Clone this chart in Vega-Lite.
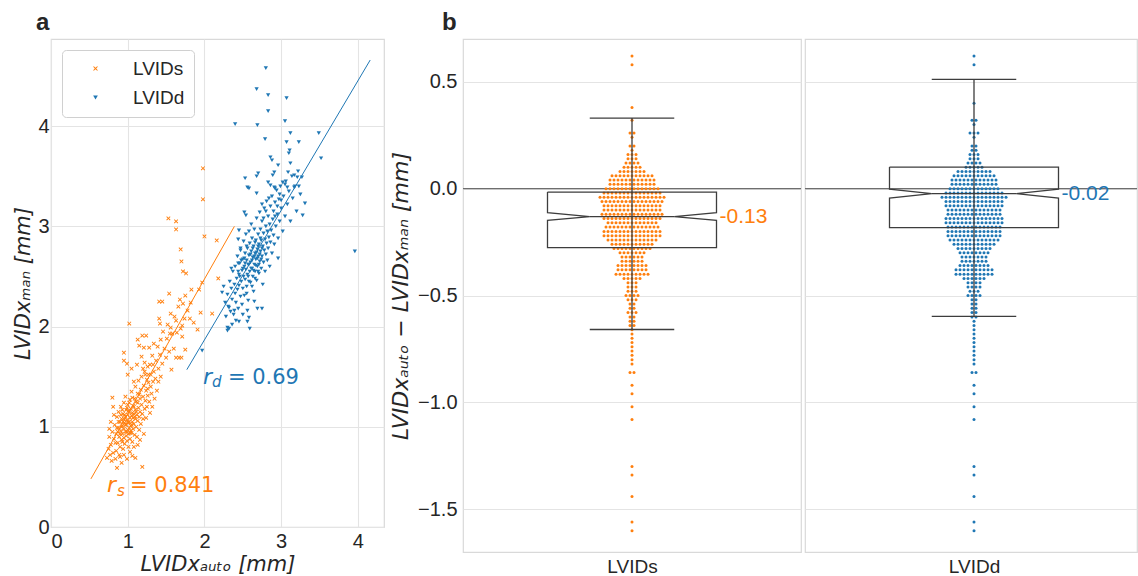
{
"$schema": "https://vega.github.io/schema/vega-lite/v6.json",
"background": "white",
"padding": {"left": 12, "top": 10, "right": 0, "bottom": 0},
"config": {
  "font": "Liberation Sans",
  "view": {"stroke": "#d9d9d9", "strokeWidth": 1.2},
  "axis": {"gridColor": "#e4e4e4", "gridWidth": 1.1, "domain": false, "ticks": false, "labelFontSize": 20, "labelFont": "Liberation Sans", "labelColor": "#262626", "titleColor": "#262626", "titleFontWeight": "normal", "titleFont": "DejaVu Sans", "titleFontStyle": "italic", "titleFontSize": 21},
  "title": {"anchor": "start", "frame": "group", "fontSize": 24, "fontWeight": "bold", "font": "Liberation Sans", "color": "#262626", "offset": 4}
},
"spacing": 79,
"bounds": "flush",
"hconcat": [
 {
  "width": 333, "height": 488,
  "title": {"text": "a", "dx": -15},
  "layer": [
   {
    "data": {"values": [
{"a":0.78,"m":0.82},{"a":0.80,"m":0.95},{"a":0.82,"m":0.88},{"a":0.83,"m":1.02},{"a":0.85,"m":0.76},{"a":0.85,"m":0.93},{"a":0.86,"m":1.10},{"a":0.87,"m":0.84},{"a":0.88,"m":0.99},{"a":0.88,"m":1.15},{"a":0.89,"m":0.72},{"a":0.89,"m":0.90},{"a":0.90,"m":1.05},{"a":0.90,"m":0.80},{"a":0.91,"m":0.96},{"a":0.91,"m":1.20},{"a":0.92,"m":0.87},{"a":0.92,"m":1.08},{"a":0.93,"m":0.93},{"a":0.93,"m":1.01},{"a":0.94,"m":0.78},{"a":0.94,"m":1.13},{"a":0.95,"m":0.98},{"a":0.95,"m":0.89},{"a":0.95,"m":1.24},{"a":0.96,"m":1.04},{"a":0.96,"m":0.83},{"a":0.97,"m":0.95},{"a":0.97,"m":1.10},{"a":0.97,"m":1.30},{"a":0.98,"m":0.91},{"a":0.98,"m":1.02},{"a":0.98,"m":1.17},{"a":0.99,"m":0.86},{"a":0.99,"m":1.07},{"a":1.00,"m":0.97},{"a":1.00,"m":1.12},{"a":1.00,"m":1.22},{"a":1.01,"m":0.93},{"a":1.01,"m":1.04},{"a":1.01,"m":0.80},{"a":1.02,"m":1.15},{"a":1.02,"m":0.99},{"a":1.03,"m":1.09},{"a":1.03,"m":1.27},{"a":1.03,"m":0.88},{"a":1.04,"m":1.01},{"a":1.04,"m":1.18},{"a":1.05,"m":0.94},{"a":1.05,"m":1.11},{"a":1.05,"m":1.35},{"a":1.06,"m":1.05},{"a":1.06,"m":0.85},{"a":1.07,"m":1.21},{"a":1.07,"m":0.98},{"a":1.08,"m":1.13},{"a":1.08,"m":1.03},{"a":1.09,"m":1.28},{"a":1.09,"m":0.92},{"a":1.10,"m":1.08},{"a":1.10,"m":1.17},{"a":1.10,"m":1.40},{"a":1.11,"m":1.00},{"a":1.11,"m":1.25},{"a":1.12,"m":1.12},{"a":1.12,"m":0.90},{"a":1.13,"m":1.33},{"a":1.13,"m":1.06},{"a":1.14,"m":1.19},{"a":1.14,"m":1.46},{"a":1.15,"m":1.10},{"a":1.15,"m":0.97},{"a":1.16,"m":1.28},{"a":1.16,"m":1.15},{"a":1.17,"m":1.37},{"a":1.17,"m":1.03},{"a":1.18,"m":1.22},{"a":1.18,"m":1.50},{"a":1.19,"m":1.13},{"a":1.20,"m":1.30},{"a":1.20,"m":1.08},{"a":1.21,"m":1.41},{"a":1.22,"m":1.18},{"a":1.22,"m":1.55},{"a":1.23,"m":1.26},{"a":1.24,"m":1.09},{"a":1.24,"m":1.36},{"a":1.25,"m":1.47},{"a":1.25,"m":1.20},{"a":1.26,"m":1.31},
{"a":0.92,"m":1.00},{"a":0.94,"m":1.05},{"a":0.96,"m":1.12},{"a":0.99,"m":0.95},{"a":1.02,"m":1.05},{"a":1.04,"m":0.96},{"a":1.06,"m":1.14},{"a":1.08,"m":1.20},{"a":0.90,"m":0.93},{"a":0.93,"m":0.85},{"a":0.97,"m":1.02},{"a":1.00,"m":1.05},{"a":1.03,"m":0.94},{"a":1.07,"m":1.09},{"a":1.11,"m":1.15},{"a":0.87,"m":0.95},{"a":0.95,"m":1.08},{"a":1.01,"m":1.16},{"a":1.05,"m":1.02},{"a":1.09,"m":1.10},{"a":0.88,"m":1.05},{"a":0.91,"m":1.12},{"a":0.99,"m":1.19},{"a":1.13,"m":1.24},{"a":1.15,"m":1.32},{"a":0.84,"m":0.84},{"a":0.86,"m":0.99},{"a":0.93,"m":1.17},{"a":1.02,"m":1.24},{"a":1.06,"m":1.29},
{"a":0.73,"m":0.69},{"a":0.75,"m":0.78},{"a":0.76,"m":0.90},{"a":0.77,"m":0.72},{"a":0.79,"m":0.66},{"a":0.81,"m":0.74},{"a":0.84,"m":0.68},{"a":0.86,"m":0.59},{"a":0.90,"m":0.70},{"a":0.92,"m":0.64},{"a":0.95,"m":0.72},{"a":0.99,"m":0.68},{"a":1.03,"m":0.75},{"a":1.06,"m":0.71},{"a":1.10,"m":0.69},{"a":1.08,"m":0.80},{"a":1.13,"m":0.82},{"a":1.16,"m":0.87},{"a":1.19,"m":0.60},{"a":1.21,"m":0.93},{"a":0.80,"m":1.29},{"a":0.81,"m":1.20},{"a":0.78,"m":1.05},{"a":0.82,"m":1.12},{"a":0.76,"m":0.98},
{"a":0.95,"m":1.74},{"a":0.95,"m":1.66},{"a":0.99,"m":1.63},{"a":1.02,"m":2.03},{"a":1.13,"m":1.87},{"a":1.19,"m":1.91},{"a":1.24,"m":1.91},{"a":1.15,"m":1.81},{"a":1.21,"m":1.79},{"a":1.28,"m":1.79},{"a":1.34,"m":1.83},{"a":1.00,"m":1.52},{"a":1.05,"m":1.58},{"a":1.08,"m":1.45},{"a":1.12,"m":1.62},{"a":1.18,"m":1.70},{"a":1.22,"m":1.64},{"a":1.27,"m":1.52},{"a":1.29,"m":1.62},{"a":1.30,"m":1.40},{"a":1.32,"m":1.71},{"a":1.34,"m":1.55},{"a":1.36,"m":1.48},{"a":1.37,"m":1.66},{"a":1.39,"m":1.80},{"a":1.40,"m":1.58},{"a":1.42,"m":1.72},{"a":1.43,"m":1.87},{"a":1.45,"m":1.63},{"a":1.46,"m":1.95},{"a":1.48,"m":1.78},{"a":1.50,"m":1.69},{"a":1.51,"m":1.88},{"a":1.52,"m":2.02},{"a":1.54,"m":1.75},{"a":1.55,"m":1.93},{"a":1.56,"m":2.13},{"a":1.57,"m":1.57},{"a":1.58,"m":1.93},{"a":1.60,"m":1.78},{"a":1.61,"m":2.10},{"a":1.63,"m":2.06},{"a":1.63,"m":1.69},{"a":1.64,"m":1.94},{"a":1.66,"m":2.20},{"a":1.67,"m":1.69},{"a":1.68,"m":2.27},{"a":1.69,"m":1.98},{"a":1.70,"m":1.69},{"a":1.71,"m":1.90},{"a":1.71,"m":2.01},{"a":1.72,"m":2.23},{"a":1.74,"m":2.08},{"a":1.75,"m":1.77},{"a":1.75,"m":2.31},{"a":1.78,"m":2.16},{"a":1.81,"m":2.08},{"a":1.82,"m":2.24},{"a":1.83,"m":2.37},{"a":1.86,"m":2.04},{"a":1.91,"m":1.97},{"a":1.93,"m":2.37},{"a":1.95,"m":2.14},{"a":1.97,"m":2.44},{"a":2.10,"m":2.13},{"a":1.41,"m":2.25},{"a":1.45,"m":2.25},{"a":1.42,"m":2.03},{"a":1.41,"m":2.08},{"a":1.54,"m":2.33},{"a":1.56,"m":1.99},
{"a":1.98,"m":3.58},{"a":1.98,"m":3.27},{"a":1.53,"m":3.08},{"a":1.63,"m":3.05},{"a":1.63,"m":2.97},{"a":2.00,"m":2.90},{"a":2.16,"m":2.86},{"a":1.69,"m":2.77},{"a":1.70,"m":2.65},{"a":1.72,"m":2.55},{"a":1.76,"m":2.53},{"a":2.18,"m":2.48},
{"a":1.26,"m":1.38},{"a":1.28,"m":1.25},{"a":1.30,"m":1.52},{"a":1.31,"m":1.33},{"a":1.33,"m":1.45},{"a":1.35,"m":1.28},{"a":1.27,"m":1.44},{"a":1.29,"m":1.14},{"a":1.23,"m":1.52},{"a":1.20,"m":1.58},{"a":1.26,"m":1.60},{"a":1.32,"m":1.20},{"a":1.38,"m":1.36},{"a":1.40,"m":1.45},{"a":1.43,"m":1.50},{"a":1.33,"m":1.62}
    ]},
    "mark": {"type": "point", "filled": true, "size": 18, "opacity": 1, "strokeWidth": 0},
    "encoding": {
     "x": {"field": "a", "type": "quantitative", "scale": {"domain": [0, 4.34], "nice": false, "zero": false}, "axis": {"title": "LVIDxₐᵤₜₒ [mm]", "values": [0, 1, 2, 3, 4], "format": "d", "labelPadding": 4, "titlePadding": 2}},
     "y": {"field": "m", "type": "quantitative", "scale": {"domain": [0, 4.87], "nice": false, "zero": false}, "axis": {"title": "LVIDxₘₐₙ [mm]", "values": [0, 1, 2, 3, 4], "format": "d", "labelPadding": 2, "titlePadding": 4}},
     "color": {"datum": "LVIDs", "scale": {"domain": ["LVIDs", "LVIDd"], "range": ["#ff7f0e", "#1f77b4"]}, "legend": {"title": null, "orient": "top-left", "offset": 11, "padding": 9, "strokeColor": "#d0d0d0", "fillColor": "#ffffff", "cornerRadius": 4, "symbolSize": 22, "labelFontSize": 19, "rowPadding": 9, "symbolOffset": 15, "labelOffset": 28, "labelFont": "Liberation Sans", "labelColor": "#262626"}},
     "shape": {"datum": "LVIDs", "scale": {"domain": ["LVIDs", "LVIDd"], "range": ["M-1,-0.7L-0.7,-1L0,-0.3L0.7,-1L1,-0.7L0.3,0L1,0.7L0.7,1L0,0.3L-0.7,1L-1,0.7L-0.3,0Z", "triangle-down"]}, "legend": {"title": null, "orient": "top-left", "offset": 11, "padding": 9, "strokeColor": "#d0d0d0", "fillColor": "#ffffff", "cornerRadius": 4, "symbolSize": 22, "labelFontSize": 19, "rowPadding": 9, "symbolOffset": 15, "labelOffset": 28, "labelFont": "Liberation Sans", "labelColor": "#262626"}}
    }
   },
   {
    "data": {"values": [
{"a":2.28,"m":2.10},{"a":2.30,"m":2.32},{"a":2.31,"m":2.20},{"a":2.33,"m":2.45},{"a":2.34,"m":2.15},{"a":2.35,"m":2.38},{"a":2.36,"m":2.27},{"a":2.37,"m":2.55},{"a":2.38,"m":2.12},{"a":2.39,"m":2.42},{"a":2.40,"m":2.33},{"a":2.40,"m":2.60},{"a":2.41,"m":2.24},{"a":2.42,"m":2.48},{"a":2.43,"m":2.37},{"a":2.43,"m":2.70},{"a":2.44,"m":2.18},{"a":2.45,"m":2.52},{"a":2.45,"m":2.41},{"a":2.46,"m":2.63},{"a":2.47,"m":2.30},{"a":2.47,"m":2.78},{"a":2.48,"m":2.45},{"a":2.49,"m":2.56},{"a":2.49,"m":2.22},{"a":2.50,"m":2.67},{"a":2.50,"m":2.38},{"a":2.51,"m":2.50},{"a":2.51,"m":2.85},{"a":2.52,"m":2.60},{"a":2.52,"m":2.31},{"a":2.53,"m":2.73},{"a":2.53,"m":2.47},{"a":2.54,"m":2.57},{"a":2.54,"m":2.92},{"a":2.55,"m":2.40},{"a":2.55,"m":2.66},{"a":2.56,"m":2.78},{"a":2.56,"m":2.52},{"a":2.57,"m":2.62},{"a":2.57,"m":2.26},{"a":2.58,"m":2.71},{"a":2.58,"m":2.95},{"a":2.59,"m":2.55},{"a":2.59,"m":2.83},{"a":2.60,"m":2.64},{"a":2.60,"m":2.44},{"a":2.61,"m":2.75},{"a":2.61,"m":3.02},{"a":2.62,"m":2.58},{"a":2.62,"m":2.88},{"a":2.63,"m":2.69},{"a":2.63,"m":2.50},{"a":2.64,"m":2.80},{"a":2.64,"m":2.35},{"a":2.65,"m":2.62},{"a":2.65,"m":2.97},{"a":2.66,"m":2.73},{"a":2.66,"m":2.55},{"a":2.67,"m":2.86},{"a":2.67,"m":2.67},{"a":2.68,"m":3.08},{"a":2.68,"m":2.46},{"a":2.69,"m":2.77},{"a":2.69,"m":2.60},{"a":2.70,"m":2.92},{"a":2.70,"m":2.70},{"a":2.71,"m":2.53},{"a":2.71,"m":2.82},{"a":2.72,"m":3.14},{"a":2.72,"m":2.65},{"a":2.73,"m":2.75},{"a":2.73,"m":2.97},{"a":2.74,"m":2.58},{"a":2.74,"m":2.86},{"a":2.75,"m":2.70},{"a":2.75,"m":3.05},{"a":2.76,"m":2.80},{"a":2.76,"m":2.42},{"a":2.77,"m":2.93},{"a":2.77,"m":2.64},{"a":2.78,"m":3.18},{"a":2.78,"m":2.76},{"a":2.79,"m":2.87},{"a":2.79,"m":2.55},{"a":2.80,"m":3.00},{"a":2.80,"m":2.72},{"a":2.81,"m":2.83},{"a":2.81,"m":3.25},{"a":2.82,"m":2.66},{"a":2.82,"m":2.95},{"a":2.83,"m":3.10},{"a":2.83,"m":2.78},{"a":2.84,"m":2.89},{"a":2.85,"m":3.02},{"a":2.85,"m":2.60},{"a":2.86,"m":3.20},{"a":2.86,"m":2.84},{"a":2.87,"m":2.96},{"a":2.88,"m":3.30},{"a":2.88,"m":2.73},{"a":2.89,"m":3.07},{"a":2.90,"m":2.91},{"a":2.90,"m":3.15},{"a":2.91,"m":2.82},{"a":2.92,"m":3.24},{"a":2.93,"m":3.00},{"a":2.94,"m":3.36},{"a":2.95,"m":3.12},{"a":2.96,"m":2.88},{"a":2.97,"m":3.27},{"a":2.98,"m":3.05},{"a":2.99,"m":3.40},{"a":3.00,"m":3.18},{"a":3.02,"m":2.95},{"a":3.03,"m":3.30},{"a":3.05,"m":3.10},{"a":3.06,"m":3.45},{"a":3.08,"m":3.22},{"a":3.10,"m":3.35},{"a":3.12,"m":3.05},{"a":3.14,"m":3.50},{"a":3.15,"m":3.28},{"a":3.18,"m":3.40},{"a":3.20,"m":3.15},{"a":3.22,"m":3.55},{"a":3.25,"m":3.32},
{"a":2.52,"m":2.68},{"a":2.55,"m":2.80},{"a":2.57,"m":2.50},{"a":2.58,"m":2.62},{"a":2.60,"m":2.72},{"a":2.61,"m":2.58},{"a":2.62,"m":2.66},{"a":2.63,"m":2.78},{"a":2.64,"m":2.56},{"a":2.65,"m":2.70},{"a":2.66,"m":2.84},{"a":2.67,"m":2.61},{"a":2.68,"m":2.74},{"a":2.69,"m":2.68},{"a":2.70,"m":2.80},{"a":2.71,"m":2.62},{"a":2.72,"m":2.72},{"a":2.73,"m":2.88},{"a":2.74,"m":2.67},{"a":2.75,"m":2.78},{"a":2.58,"m":2.45},{"a":2.62,"m":2.40},{"a":2.66,"m":2.48},{"a":2.70,"m":2.55},{"a":2.55,"m":2.33},{"a":2.48,"m":2.66},{"a":2.46,"m":2.50},{"a":2.50,"m":2.58},{"a":2.53,"m":2.63},{"a":2.44,"m":2.55},
{"a":2.23,"m":2.34},{"a":2.30,"m":1.99},{"a":2.30,"m":1.96},{"a":2.32,"m":1.98},{"a":2.59,"m":1.98},{"a":2.69,"m":2.18},{"a":2.75,"m":2.18},{"a":2.56,"m":2.16},{"a":2.58,"m":2.09},{"a":2.41,"m":2.06},{"a":2.39,"m":2.16},{"a":2.32,"m":2.19},{"a":1.97,"m":1.76},{"a":2.56,"m":2.05},{"a":2.45,"m":2.05},{"a":2.36,"m":2.02},{"a":2.50,"m":2.12},{"a":2.65,"m":2.25},{"a":2.27,"m":2.24},{"a":2.25,"m":2.40},{"a":2.35,"m":2.58},
{"a":2.80,"m":4.58},{"a":2.68,"m":4.37},{"a":2.83,"m":4.31},{"a":3.07,"m":4.28},{"a":2.83,"m":4.15},{"a":3.05,"m":4.05},{"a":2.40,"m":4.02},{"a":2.69,"m":4.01},{"a":3.12,"m":3.93},{"a":3.49,"m":3.93},{"a":2.79,"m":3.87},{"a":3.07,"m":3.84},{"a":3.23,"m":3.84},{"a":3.11,"m":3.76},{"a":3.10,"m":3.73},{"a":3.52,"m":3.68},{"a":2.86,"m":3.69},{"a":2.88,"m":3.66},{"a":3.12,"m":3.63},{"a":2.96,"m":3.61},{"a":2.91,"m":3.54},{"a":2.89,"m":3.51},{"a":2.70,"m":3.53},{"a":2.68,"m":3.50},{"a":3.09,"m":3.54},{"a":3.17,"m":3.51},{"a":3.21,"m":3.49},{"a":3.27,"m":3.49},{"a":2.53,"m":3.48},{"a":2.56,"m":3.39},{"a":2.58,"m":3.38},{"a":2.83,"m":3.44},{"a":2.86,"m":3.41},{"a":2.91,"m":3.39},{"a":2.92,"m":3.38},{"a":3.02,"m":3.44},{"a":3.05,"m":3.42},{"a":3.08,"m":3.39},{"a":3.17,"m":3.39},{"a":3.23,"m":3.40},{"a":2.68,"m":3.33},{"a":3.31,"m":3.23},{"a":3.28,"m":3.11},{"a":2.52,"m":3.14},{"a":2.54,"m":3.11},{"a":2.96,"m":2.68},{"a":3.96,"m":2.75},{"a":2.45,"m":2.96},{"a":2.44,"m":2.87},{"a":2.47,"m":2.76},{"a":2.44,"m":2.63},
{"a":2.75,"m":3.22},{"a":2.80,"m":3.15},{"a":2.84,"m":3.28},{"a":2.95,"m":3.20},{"a":2.98,"m":3.32},{"a":3.00,"m":3.26},{"a":2.92,"m":3.10},{"a":2.77,"m":3.08}
    ]},
    "mark": {"type": "point", "filled": true, "size": 18, "opacity": 1, "strokeWidth": 0},
    "encoding": {
     "x": {"field": "a", "type": "quantitative"},
     "y": {"field": "m", "type": "quantitative"},
     "color": {"datum": "LVIDd"},
     "shape": {"datum": "LVIDd"}
    }
   },
   {
    "data": {"values": [{"a": 0.52, "m": 0.48}, {"a": 2.39, "m": 3.0}]},
    "mark": {"type": "line", "color": "#ff7f0e", "strokeWidth": 1},
    "encoding": {"x": {"field": "a", "type": "quantitative"}, "y": {"field": "m", "type": "quantitative"}}
   },
   {
    "data": {"values": [{"a": 1.77, "m": 1.57}, {"a": 4.16, "m": 4.66}]},
    "mark": {"type": "line", "color": "#1f77b4", "strokeWidth": 1},
    "encoding": {"x": {"field": "a", "type": "quantitative"}, "y": {"field": "m", "type": "quantitative"}}
   },
   {
    "data": {"values": [{"a": 0.73, "m": 0.35}]},
    "layer": [
     {"mark": {"type": "text", "text": "r", "font": "DejaVu Sans", "fontStyle": "italic", "fontSize": 22, "align": "left", "baseline": "alphabetic", "color": "#ff7f0e"}, "encoding": {"x": {"field": "a", "type": "quantitative"}, "y": {"field": "m", "type": "quantitative"}}},
     {"mark": {"type": "text", "text": "s", "font": "DejaVu Sans", "fontStyle": "italic", "fontSize": 15, "align": "left", "baseline": "alphabetic", "dx": 10, "dy": 4, "color": "#ff7f0e"}, "encoding": {"x": {"field": "a", "type": "quantitative"}, "y": {"field": "m", "type": "quantitative"}}},
     {"mark": {"type": "text", "text": "= 0.841", "font": "DejaVu Sans", "fontSize": 21, "align": "left", "baseline": "alphabetic", "dx": 23, "color": "#ff7f0e"}, "encoding": {"x": {"field": "a", "type": "quantitative"}, "y": {"field": "m", "type": "quantitative"}}}
    ]
   },
   {
    "data": {"values": [{"a": 1.98, "m": 1.43}]},
    "layer": [
     {"mark": {"type": "text", "text": "r", "font": "DejaVu Sans", "fontStyle": "italic", "fontSize": 22, "align": "left", "baseline": "alphabetic", "color": "#1f77b4"}, "encoding": {"x": {"field": "a", "type": "quantitative"}, "y": {"field": "m", "type": "quantitative"}}},
     {"mark": {"type": "text", "text": "d", "font": "DejaVu Sans", "fontStyle": "italic", "fontSize": 15, "align": "left", "baseline": "alphabetic", "dx": 9, "dy": 3, "color": "#1f77b4"}, "encoding": {"x": {"field": "a", "type": "quantitative"}, "y": {"field": "m", "type": "quantitative"}}},
     {"mark": {"type": "text", "text": "= 0.69", "font": "DejaVu Sans", "fontSize": 21, "align": "left", "baseline": "alphabetic", "dx": 25, "color": "#1f77b4"}, "encoding": {"x": {"field": "a", "type": "quantitative"}, "y": {"field": "m", "type": "quantitative"}}}
    ]
   }
  ]
 },
 {
  "spacing": 4,
  "bounds": "flush",
  "hconcat": [
   {
    "width": 338, "height": 513,
    "title": {"text": "b", "dx": -21},
    "resolve": {"scale": {"x": "independent"}, "axis": {"x": "independent"}},
    "layer": [
     {
      "data": {"values": [{"v": 0}]},
      "mark": {"type": "rule", "color": "#6e6e6e", "strokeWidth": 1.2},
      "encoding": {"y": {"field": "v", "type": "quantitative", "scale": {"domain": [-1.7, 0.7], "nice": false, "zero": false}, "axis": {"values": [-1.5, -1, -0.5, 0, 0.5], "format": ".1f", "title": "LVIDxₐᵤₜₒ − LVIDxₘₐₙ [mm]", "titleFontSize": 22, "labelPadding": 6, "titlePadding": 5}}}
     },
     {
      "data": {"values": [0.624,0.582,0.397,0.331,0.264,0.271,0.252,0.205,0.213,0.188,0.163,0.171,0.177,0.143,0.152,0.158,0.122,0.128,0.135,0.139,0.101,0.107,0.112,0.116,0.119,0.081,0.084,0.088,0.091,0.093,0.096,0.098,0.061,0.063,0.065,0.066,0.068,0.071,0.073,0.074,0.076,0.077,0.079,0.041,0.042,0.045,0.047,0.049,0.051,0.053,0.055,0.056,0.058,0.059,0.044,0.021,0.023,0.025,0.026,0.028,0.031,0.033,0.034,0.036,0.037,0.039,0.029,0.001,0.002,0.004,0.005,0.007,0.008,0.011,0.012,0.013,0.015,0.016,0.018,0.019,0.009,-0.019,-0.018,-0.017,-0.015,-0.014,-0.012,-0.011,-0.009,-0.008,-0.007,-0.005,-0.004,-0.003,-0.002,-0.013,-0.039,-0.038,-0.036,-0.035,-0.034,-0.033,-0.031,-0.03,-0.029,-0.028,-0.027,-0.025,-0.024,-0.023,-0.022,-0.021,-0.032,-0.059,-0.058,-0.056,-0.055,-0.054,-0.052,-0.051,-0.049,-0.048,-0.047,-0.045,-0.044,-0.043,-0.042,-0.041,-0.053,-0.079,-0.077,-0.076,-0.074,-0.073,-0.072,-0.071,-0.069,-0.068,-0.066,-0.065,-0.064,-0.063,-0.062,-0.061,-0.099,-0.098,-0.096,-0.095,-0.093,-0.092,-0.091,-0.089,-0.088,-0.086,-0.085,-0.084,-0.083,-0.082,-0.081,-0.119,-0.118,-0.117,-0.115,-0.114,-0.113,-0.112,-0.111,-0.109,-0.108,-0.106,-0.105,-0.104,-0.103,-0.102,-0.101,-0.139,-0.138,-0.137,-0.136,-0.134,-0.133,-0.132,-0.131,-0.129,-0.128,-0.127,-0.125,-0.124,-0.122,-0.121,-0.159,-0.157,-0.156,-0.154,-0.153,-0.151,-0.149,-0.148,-0.146,-0.145,-0.143,-0.142,-0.141,-0.179,-0.178,-0.176,-0.175,-0.173,-0.172,-0.171,-0.169,-0.167,-0.166,-0.165,-0.163,-0.162,-0.161,-0.199,-0.197,-0.196,-0.195,-0.194,-0.192,-0.191,-0.189,-0.188,-0.187,-0.185,-0.184,-0.183,-0.182,-0.181,-0.219,-0.218,-0.216,-0.215,-0.214,-0.212,-0.211,-0.209,-0.208,-0.206,-0.205,-0.204,-0.203,-0.202,-0.201,-0.239,-0.237,-0.236,-0.234,-0.233,-0.231,-0.229,-0.228,-0.226,-0.225,-0.223,-0.222,-0.221,-0.259,-0.257,-0.255,-0.254,-0.252,-0.249,-0.247,-0.245,-0.244,-0.242,-0.241,-0.279,-0.277,-0.275,-0.273,-0.271,-0.268,-0.266,-0.264,-0.263,-0.261,-0.298,-0.295,-0.292,-0.289,-0.286,-0.284,-0.282,-0.318,-0.315,-0.311,-0.307,-0.304,-0.302,-0.338,-0.335,-0.331,-0.327,-0.324,-0.321,-0.359,-0.356,-0.354,-0.351,-0.348,-0.345,-0.343,-0.341,-0.379,-0.376,-0.373,-0.371,-0.368,-0.365,-0.363,-0.361,-0.399,-0.397,-0.394,-0.392,-0.389,-0.387,-0.385,-0.383,-0.381,-0.418,-0.414,-0.409,-0.405,-0.402,-0.436,-0.428,-0.423,-0.457,-0.449,-0.443,-0.477,-0.469,-0.463,-0.498,-0.492,-0.487,-0.483,-0.517,-0.509,-0.503,-0.533,-0.526,-0.554,-0.546,-0.578,-0.572,-0.565,-0.594,-0.586,-0.613,-0.604,-0.637,-0.626,-0.655,-0.678,-0.698,-0.718,-0.731,-0.745,-0.761,-0.784,-0.808,-0.853,-0.857,-0.904,-0.947,-1.008,-1.079,-1.288,-1.337,-1.424,-1.551,-1.598]},
      "transform": [
       {"bin": {"step": 0.02}, "field": "data", "as": "v"},
       {"window": [{"op": "count", "as": "c"}], "frame": [0, 0]}
      ],
      "mark": {"type": "circle", "size": 9, "color": "#ff7f0e", "opacity": 1},
      "encoding": {
       "x": {"field": "c", "type": "quantitative", "stack": "center", "scale": {"domain": [-33.25, 51.25], "nice": false, "zero": false}, "axis": null},
       "y": {"field": "v", "type": "quantitative", "scale": {"domain": [-1.7, 0.7], "nice": false, "zero": false}}
      }
     },
     {
      "data": {"values": [{"w":-0.5,"v":-0.016,"o":0},{"w":0.5,"v":-0.016,"o":1},{"w":0.5,"v":-0.112,"o":2},{"w":0.25,"v":-0.131,"o":3},{"w":0.5,"v":-0.148,"o":4},{"w":0.5,"v":-0.276,"o":5},{"w":-0.5,"v":-0.276,"o":6},{"w":-0.5,"v":-0.148,"o":7},{"w":-0.25,"v":-0.131,"o":8},{"w":-0.5,"v":-0.112,"o":9},{"w":-0.5,"v":-0.016,"o":10}]},
      "mark": {"type": "line", "color": "#3d3d3d", "strokeWidth": 1.3},
      "encoding": {
       "x": {"field": "w", "type": "quantitative", "scale": {"domain": [-1, 1], "nice": false, "zero": false}, "axis": {"title": "LVIDs", "labels": false, "grid": false, "titleFont": "Liberation Sans", "titleFontStyle": "normal", "titleFontSize": 19, "titlePadding": 5}},
       "y": {"field": "v", "type": "quantitative"},
       "order": {"field": "o", "type": "quantitative"}
      }
     },
     {
      "data": {"values": [{"w":-0.25,"w2":0.25,"v":0.33,"v2":0.33},{"w":-0.25,"w2":0.25,"v":-0.659,"v2":-0.659},{"w":-0.25,"w2":0.25,"v":-0.131,"v2":-0.131},{"w":0,"w2":0,"v":-0.659,"v2":0.33}]},
      "mark": {"type": "rule", "color": "#3d3d3d", "strokeWidth": 1.3},
      "encoding": {
       "x": {"field": "w", "type": "quantitative", "scale": {"domain": [-1, 1], "nice": false, "zero": false}, "axis": null},
       "x2": {"field": "w2"},
       "y": {"field": "v", "type": "quantitative"},
       "y2": {"field": "v2"}
      }
     },
     {
      "data": {"values": [{"w": 0.5, "v": -0.131, "t": "-0.13"}]},
      "mark": {"type": "text", "align": "left", "baseline": "middle", "dx": 3, "fontSize": 21, "font": "Liberation Sans", "color": "#ff7f0e"},
      "encoding": {
       "x": {"field": "w", "type": "quantitative", "scale": {"domain": [-1, 1], "nice": false, "zero": false}, "axis": null},
       "y": {"field": "v", "type": "quantitative"},
       "text": {"field": "t"}
      }
     }
    ]
   },
   {
    "width": 332, "height": 513,
    "resolve": {"scale": {"x": "independent"}, "axis": {"x": "independent"}},
    "layer": [
     {
      "data": {"values": [{"v": 0}]},
      "mark": {"type": "rule", "color": "#6e6e6e", "strokeWidth": 1.2},
      "encoding": {"y": {"field": "v", "type": "quantitative", "scale": {"domain": [-1.7, 0.7], "nice": false, "zero": false}, "axis": {"values": [-1.5, -1, -0.5, 0, 0.5], "labels": false, "title": null}}}
     },
     {
      "data": {"values": [0.624,0.582,0.401,0.331,0.334,0.306,0.266,0.270,0.274,0.244,0.204,0.213,0.186,0.193,0.164,0.171,0.176,0.142,0.151,0.157,0.123,0.127,0.134,0.138,0.102,0.106,0.111,0.115,0.118,0.081,0.083,0.085,0.087,0.089,0.091,0.093,0.095,0.098,0.061,0.062,0.064,0.066,0.068,0.069,0.071,0.073,0.075,0.077,0.079,0.041,0.043,0.044,0.046,0.048,0.049,0.051,0.053,0.054,0.056,0.057,0.059,0.021,0.022,0.024,0.026,0.027,0.029,0.031,0.033,0.034,0.036,0.037,0.039,0.001,0.003,0.004,0.006,0.007,0.009,0.011,0.012,0.013,0.015,0.016,0.017,0.019,-0.019,-0.018,-0.016,-0.015,-0.014,-0.013,-0.012,-0.011,-0.009,-0.008,-0.006,-0.005,-0.004,-0.003,-0.001,-0.039,-0.038,-0.037,-0.036,-0.035,-0.034,-0.033,-0.032,-0.031,-0.029,-0.028,-0.027,-0.026,-0.025,-0.024,-0.023,-0.022,-0.059,-0.058,-0.057,-0.055,-0.054,-0.053,-0.051,-0.049,-0.048,-0.047,-0.046,-0.045,-0.043,-0.042,-0.041,-0.079,-0.078,-0.076,-0.075,-0.074,-0.073,-0.071,-0.069,-0.068,-0.067,-0.066,-0.064,-0.063,-0.062,-0.061,-0.099,-0.097,-0.096,-0.094,-0.093,-0.092,-0.091,-0.089,-0.088,-0.086,-0.085,-0.084,-0.083,-0.081,-0.119,-0.117,-0.116,-0.115,-0.113,-0.112,-0.111,-0.109,-0.107,-0.106,-0.105,-0.104,-0.103,-0.101,-0.139,-0.138,-0.136,-0.135,-0.134,-0.133,-0.132,-0.131,-0.129,-0.128,-0.126,-0.125,-0.124,-0.123,-0.121,-0.159,-0.158,-0.157,-0.155,-0.154,-0.153,-0.152,-0.151,-0.149,-0.148,-0.146,-0.145,-0.144,-0.143,-0.141,-0.179,-0.177,-0.176,-0.175,-0.174,-0.172,-0.171,-0.169,-0.168,-0.167,-0.165,-0.164,-0.163,-0.161,-0.199,-0.198,-0.196,-0.195,-0.193,-0.192,-0.191,-0.189,-0.188,-0.186,-0.185,-0.184,-0.183,-0.181,-0.219,-0.217,-0.216,-0.215,-0.213,-0.212,-0.211,-0.209,-0.208,-0.206,-0.205,-0.204,-0.203,-0.201,-0.239,-0.238,-0.236,-0.235,-0.233,-0.232,-0.231,-0.229,-0.227,-0.226,-0.224,-0.223,-0.221,-0.259,-0.257,-0.256,-0.254,-0.252,-0.251,-0.249,-0.247,-0.245,-0.243,-0.241,-0.279,-0.277,-0.275,-0.272,-0.269,-0.267,-0.265,-0.263,-0.261,-0.298,-0.296,-0.293,-0.291,-0.288,-0.286,-0.284,-0.282,-0.318,-0.316,-0.313,-0.309,-0.306,-0.304,-0.302,-0.339,-0.336,-0.333,-0.329,-0.326,-0.324,-0.322,-0.358,-0.356,-0.353,-0.351,-0.348,-0.346,-0.343,-0.341,-0.379,-0.377,-0.375,-0.373,-0.371,-0.369,-0.367,-0.365,-0.363,-0.361,-0.399,-0.397,-0.395,-0.393,-0.391,-0.389,-0.387,-0.385,-0.383,-0.381,-0.418,-0.415,-0.411,-0.408,-0.405,-0.402,-0.437,-0.432,-0.427,-0.422,-0.458,-0.452,-0.447,-0.443,-0.476,-0.471,-0.464,-0.497,-0.493,-0.488,-0.484,-0.515,-0.507,-0.536,-0.527,-0.553,-0.545,-0.574,-0.566,-0.598,-0.589,-0.605,-0.623,-0.651,-0.675,-0.687,-0.706,-0.729,-0.745,-0.761,-0.784,-0.807,-0.853,-0.857,-0.904,-0.947,-1.008,-1.079,-1.288,-1.337,-1.424,-1.551,-1.598]},
      "transform": [
       {"bin": {"step": 0.02}, "field": "data", "as": "v"},
       {"window": [{"op": "count", "as": "c"}], "frame": [0, 0]}
      ],
      "mark": {"type": "circle", "size": 9, "color": "#1f77b4", "opacity": 1},
      "encoding": {
       "x": {"field": "c", "type": "quantitative", "stack": "center", "scale": {"domain": [-33.25, 49.75], "nice": false, "zero": false}, "axis": null},
       "y": {"field": "v", "type": "quantitative", "scale": {"domain": [-1.7, 0.7], "nice": false, "zero": false}}
      }
     },
     {
      "data": {"values": [{"w":-0.5,"v":0.101,"o":0},{"w":0.5,"v":0.101,"o":1},{"w":0.5,"v":-0.002,"o":2},{"w":0.25,"v":-0.023,"o":3},{"w":0.5,"v":-0.044,"o":4},{"w":0.5,"v":-0.182,"o":5},{"w":-0.5,"v":-0.182,"o":6},{"w":-0.5,"v":-0.044,"o":7},{"w":-0.25,"v":-0.023,"o":8},{"w":-0.5,"v":-0.002,"o":9},{"w":-0.5,"v":0.101,"o":10}]},
      "mark": {"type": "line", "color": "#3d3d3d", "strokeWidth": 1.3},
      "encoding": {
       "x": {"field": "w", "type": "quantitative", "scale": {"domain": [-1, 0.9645], "nice": false, "zero": false}, "axis": {"title": "LVIDd", "labels": false, "grid": false, "titleFont": "Liberation Sans", "titleFontStyle": "normal", "titleFontSize": 19, "titlePadding": 5, "titleX": 169}},
       "y": {"field": "v", "type": "quantitative"},
       "order": {"field": "o", "type": "quantitative"}
      }
     },
     {
      "data": {"values": [{"w":-0.25,"w2":0.25,"v":0.511,"v2":0.511},{"w":-0.25,"w2":0.25,"v":-0.598,"v2":-0.598},{"w":-0.25,"w2":0.25,"v":-0.023,"v2":-0.023},{"w":0,"w2":0,"v":-0.598,"v2":0.511}]},
      "mark": {"type": "rule", "color": "#3d3d3d", "strokeWidth": 1.3},
      "encoding": {
       "x": {"field": "w", "type": "quantitative", "scale": {"domain": [-1, 0.9645], "nice": false, "zero": false}, "axis": null},
       "x2": {"field": "w2"},
       "y": {"field": "v", "type": "quantitative"},
       "y2": {"field": "v2"}
      }
     },
     {
      "data": {"values": [{"w": 0.5, "v": -0.023, "t": "-0.02"}]},
      "mark": {"type": "text", "align": "left", "baseline": "middle", "dx": 3, "fontSize": 21, "font": "Liberation Sans", "color": "#1f77b4"},
      "encoding": {
       "x": {"field": "w", "type": "quantitative", "scale": {"domain": [-1, 0.9645], "nice": false, "zero": false}, "axis": null},
       "y": {"field": "v", "type": "quantitative"},
       "text": {"field": "t"}
      }
     }
    ]
   }
  ]
 }
]
}
